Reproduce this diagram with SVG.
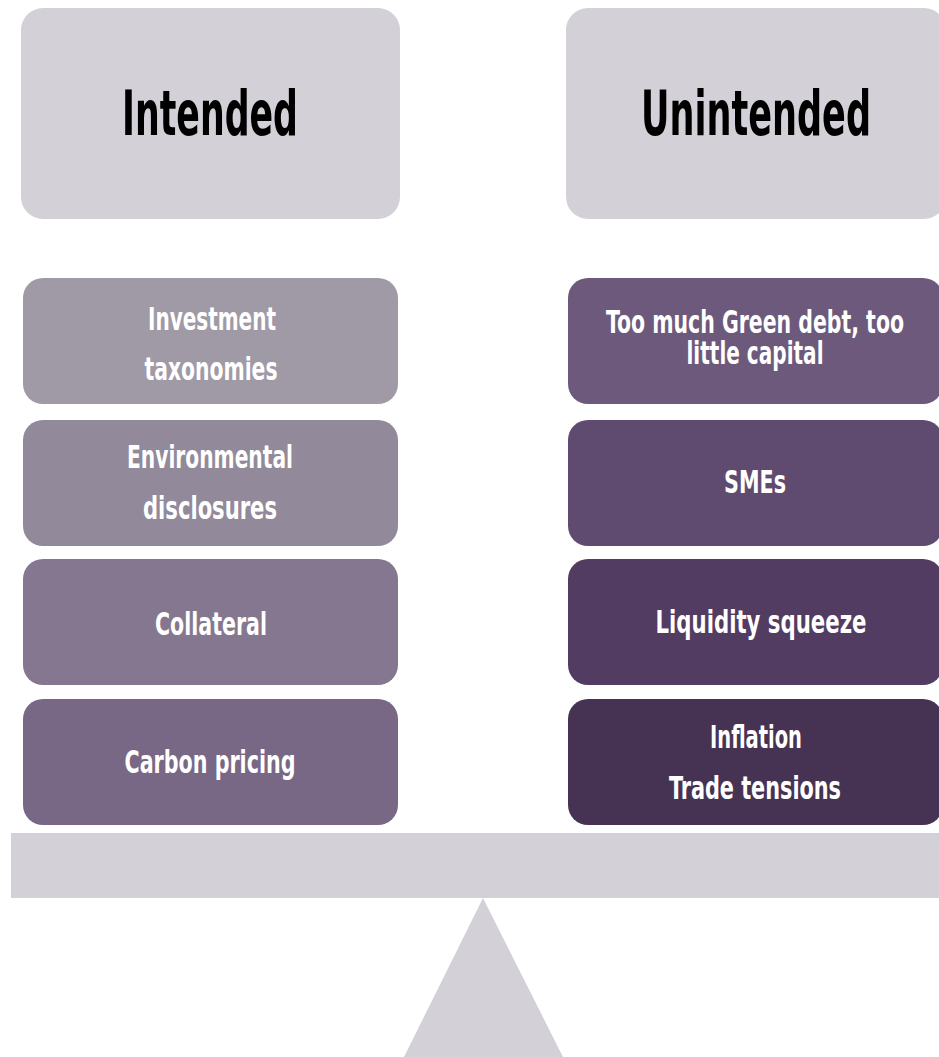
<svg xmlns="http://www.w3.org/2000/svg" width="939" height="1057" viewBox="0 0 939 1057">
<style>
.t{font-family:"DejaVu Sans Condensed","DejaVu Sans",sans-serif;font-weight:bold;text-anchor:middle;}
.h{font-size:62px;fill:#000;}
.b{font-size:32px;fill:#fff;}
</style>
<rect width="939" height="1057" fill="#fff"/>
<g id="title-intended"><rect x="21" y="8" width="379" height="211" rx="22" fill="#d3d1d7"/><text class="t h" x="210" y="135" textLength="176" lengthAdjust="spacingAndGlyphs">Intended</text></g>
<g id="title-unintended"><rect x="566" y="8" width="380" height="211" rx="22" fill="#d3d1d7"/><text class="t h" x="756" y="135" textLength="230" lengthAdjust="spacingAndGlyphs">Unintended</text></g>
<g id="l1"><rect x="23" y="278" width="375" height="126" rx="20" fill="#a09aa6"/><text class="t b" x="212" y="330" textLength="128" lengthAdjust="spacingAndGlyphs">Investment</text><text class="t b" x="211" y="380" textLength="133" lengthAdjust="spacingAndGlyphs">taxonomies</text></g>
<g id="l2"><rect x="23" y="420" width="375" height="126" rx="20" fill="#928a9a"/><text class="t b" x="210" y="468" textLength="166" lengthAdjust="spacingAndGlyphs">Environmental</text><text class="t b" x="210" y="519" textLength="134" lengthAdjust="spacingAndGlyphs">disclosures</text></g>
<g id="l3"><rect x="23" y="559" width="375" height="126" rx="20" fill="#85778f"/><text class="t b" x="211" y="635" textLength="112" lengthAdjust="spacingAndGlyphs">Collateral</text></g>
<g id="l4"><rect x="23" y="699" width="375" height="126" rx="20" fill="#786886"/><text class="t b" x="210" y="773" textLength="171" lengthAdjust="spacingAndGlyphs">Carbon pricing</text></g>
<g id="r1"><rect x="568" y="278" width="375" height="126" rx="20" fill="#6d597c"/><text class="t b" x="755" y="333" textLength="298" lengthAdjust="spacingAndGlyphs">Too much Green debt, too</text><text class="t b" x="755" y="364" textLength="137" lengthAdjust="spacingAndGlyphs">little capital</text></g>
<g id="r2"><rect x="568" y="420" width="375" height="126" rx="20" fill="#5f4b6f"/><text class="t b" x="755" y="493" textLength="62" lengthAdjust="spacingAndGlyphs">SMEs</text></g>
<g id="r3"><rect x="568" y="559" width="375" height="126" rx="20" fill="#523c61"/><text class="t b" x="761" y="633" textLength="211" lengthAdjust="spacingAndGlyphs">Liquidity squeeze</text></g>
<g id="r4"><rect x="568" y="699" width="375" height="126" rx="20" fill="#463354"/><text class="t b" x="756" y="748" textLength="92" lengthAdjust="spacingAndGlyphs">Inflation</text><text class="t b" x="755" y="799" textLength="172" lengthAdjust="spacingAndGlyphs">Trade tensions</text></g>
<g id="beam"><rect x="11" y="833" width="935" height="65" fill="#d3d1d7"/></g>
<g id="fulcrum"><polygon points="483,898 404,1057 563,1057" fill="#d3d1d7"/></g>
<g id="connectors"></g>
</svg>
